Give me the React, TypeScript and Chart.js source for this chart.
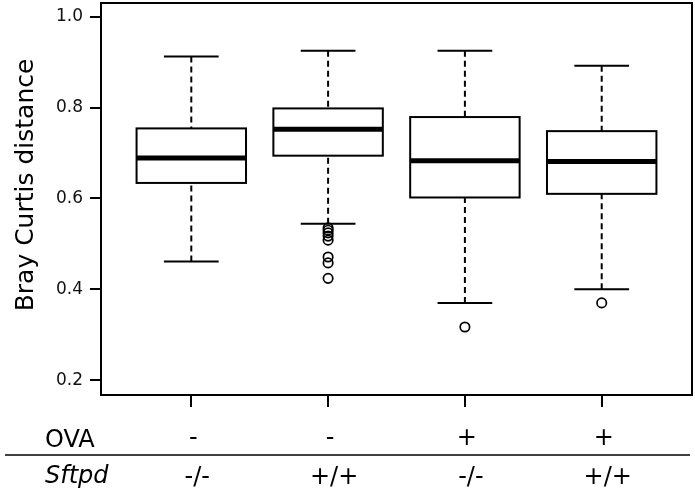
import React, { useEffect, useRef } from 'react';
import { Chart, registerables } from 'chart.js';

Chart.register(...registerables);

// ---- data ----
const OVA_LABELS = ['-', '-', '+', '+'];
const SFTPD_LABELS = ['-/-', '+/+', '-/-', '+/+'];
const Y_TICKS = [0.2, 0.4, 0.6, 0.8, 1.0];
const WHISKER_LOW = [0.461, 0.544, 0.37, 0.4];
const Q1 = [0.634, 0.694, 0.602, 0.61];
const MEDIAN = [0.689, 0.752, 0.683, 0.681];
const Q3 = [0.754, 0.798, 0.779, 0.748];
const WHISKER_HIGH = [0.912, 0.925, 0.925, 0.892];
const OUTLIERS_G1: number[] = [];
const OUTLIERS_G2 = [0.535, 0.53, 0.524, 0.517, 0.508, 0.471, 0.458, 0.424];
const OUTLIERS_G3 = [0.317];
const OUTLIERS_G4 = [0.37];
const OUTLIERS = [OUTLIERS_G1, OUTLIERS_G2, OUTLIERS_G3, OUTLIERS_G4];

const Y_TITLE = 'Bray Curtis distance';
const ROW1_TITLE = 'OVA';
const ROW2_TITLE = 'Sftpd';

// ---- style constants ----
const FONT = "'DejaVu Sans'";
const BOX_WIDTH = 0.8;
const CAP_WIDTH = 0.4;
const ROW_FONT_PX = 24;

const boxPlugin = {
  id: 'boxplot',
  beforeDatasetsDraw(chart: any) {
    const { ctx } = chart;
    const x = chart.scales.x;
    const y = chart.scales.y;
    ctx.save();
    ctx.strokeStyle = '#000';
    for (let i = 0; i < MEDIAN.length; i++) {
      const cx = x.getPixelForValue(i + 1);
      const halfBox = x.getPixelForValue(i + 1 + BOX_WIDTH / 2) - cx;
      const halfCap = x.getPixelForValue(i + 1 + CAP_WIDTH / 2) - cx;
      const yLo = y.getPixelForValue(WHISKER_LOW[i]);
      const yQ1 = y.getPixelForValue(Q1[i]);
      const yMed = y.getPixelForValue(MEDIAN[i]);
      const yQ3 = y.getPixelForValue(Q3[i]);
      const yHi = y.getPixelForValue(WHISKER_HIGH[i]);
      ctx.lineWidth = 2;
      ctx.setLineDash([6, 4]);
      ctx.beginPath();
      ctx.moveTo(cx, yHi);
      ctx.lineTo(cx, yQ3);
      ctx.moveTo(cx, yLo);
      ctx.lineTo(cx, yQ1);
      ctx.stroke();
      ctx.setLineDash([]);
      ctx.beginPath();
      ctx.moveTo(cx - halfCap, yHi);
      ctx.lineTo(cx + halfCap, yHi);
      ctx.moveTo(cx - halfCap, yLo);
      ctx.lineTo(cx + halfCap, yLo);
      ctx.stroke();
      ctx.fillStyle = '#fff';
      ctx.fillRect(cx - halfBox, yQ3, halfBox * 2, yQ1 - yQ3);
      ctx.strokeRect(cx - halfBox, yQ3, halfBox * 2, yQ1 - yQ3);
      ctx.lineWidth = 5;
      ctx.beginPath();
      ctx.moveTo(cx - halfBox, yMed);
      ctx.lineTo(cx + halfBox, yMed);
      ctx.stroke();
    }
    ctx.restore();
  },
  afterDraw(chart: any) {
    const { ctx, chartArea } = chart;
    const x = chart.scales.x;
    ctx.save();
    ctx.strokeStyle = '#000';
    ctx.lineWidth = 2;
    ctx.strokeRect(chartArea.left, chartArea.top, chartArea.right - chartArea.left, chartArea.bottom - chartArea.top);
    ctx.fillStyle = '#000';
    ctx.save();
    ctx.translate(33, 185);
    ctx.rotate(-Math.PI / 2);
    ctx.font = `25px ${FONT}`;
    ctx.textAlign = 'center';
    ctx.textBaseline = 'alphabetic';
    ctx.fillText(Y_TITLE, 0, 0);
    ctx.restore();
    ctx.font = `${ROW_FONT_PX}px ${FONT}`;
    ctx.textAlign = 'left';
    ctx.textBaseline = 'alphabetic';
    ctx.fillText(ROW1_TITLE, 45, 447);
    ctx.font = `italic ${ROW_FONT_PX}px ${FONT}`;
    ctx.fillText(ROW2_TITLE, 45, 483);
    ctx.textAlign = 'center';
    for (let i = 0; i < OVA_LABELS.length; i++) {
      const cx = x.getPixelForValue(i + 1);
      ctx.font = `${ROW_FONT_PX}px ${FONT}`;
      ctx.fillText(OVA_LABELS[i], cx + 2, 445);
      ctx.fillText(SFTPD_LABELS[i], cx + 6, 484);
    }
    ctx.lineWidth = 1.5;
    ctx.beginPath();
    ctx.moveTo(5, 455);
    ctx.lineTo(690, 455);
    ctx.stroke();
    ctx.restore();
  },
};

export default function App() {
  const canvasRef = useRef<HTMLCanvasElement | null>(null);

  useEffect(() => {
    const canvas = canvasRef.current;
    if (!canvas) return;
    const outlierPoints = OUTLIERS.flatMap((arr, i) => arr.map((v) => ({ x: i + 1, y: v })));
    const zeroPad = (s: any) => {
      s.paddingTop = 0;
      s.paddingBottom = 0;
      s.paddingLeft = 0;
      s.paddingRight = 0;
    };
    const chart = new Chart(canvas, {
      type: 'scatter',
      data: {
        datasets: [
          {
            label: 'outliers',
            data: outlierPoints,
            pointStyle: 'circle',
            pointRadius: 4.7,
            pointBorderWidth: 1.7,
            pointBorderColor: '#000',
            pointBackgroundColor: 'rgba(255,255,255,0)',
            showLine: false,
          } as any,
        ],
      },
      options: {
        animation: false,
        responsive: false,
        devicePixelRatio: 1,
        events: [],
        layout: { autoPadding: false, padding: { top: 3, right: 3, left: 0, bottom: 0 } },
        plugins: { legend: { display: false }, tooltip: { enabled: false } },
        scales: {
          x: {
            type: 'linear',
            min: 0.34,
            max: 4.66,
            afterBuildTicks: (s: any) => {
              s.ticks = OVA_LABELS.map((_, i) => ({ value: i + 1 }));
            },
            afterFit: (s: any) => {
              s.height = 97;
              zeroPad(s);
            },
            ticks: { display: false },
            grid: { drawOnChartArea: false, drawTicks: true, tickLength: 12, color: '#000', tickColor: '#000', lineWidth: 2, tickWidth: 2 },
            border: { display: false },
          },
          y: {
            type: 'linear',
            min: 0.1673,
            max: 1.03,
            afterBuildTicks: (s: any) => {
              s.ticks = Y_TICKS.map((v) => ({ value: v }));
            },
            afterFit: (s: any) => {
              s.width = 101;
              zeroPad(s);
            },
            ticks: {
              callback: (v: any) => Number(v).toFixed(1),
              font: { size: 17, family: 'DejaVu Sans' },
              color: '#111',
              padding: 7,
            },
            grid: { drawOnChartArea: false, drawTicks: true, tickLength: 11, color: '#000', tickColor: '#000', lineWidth: 2, tickWidth: 2 },
            border: { display: false },
          },
        },
      } as any,
      plugins: [boxPlugin],
    });
    return () => chart.destroy();
  }, []);

  return (
    <div style={{ position: 'fixed', left: 0, top: 0, width: 695, height: 492, background: '#fff' }}>
      <canvas ref={canvasRef} width={695} height={492} style={{ width: 695, height: 492, display: 'block' }} />
    </div>
  );
}
